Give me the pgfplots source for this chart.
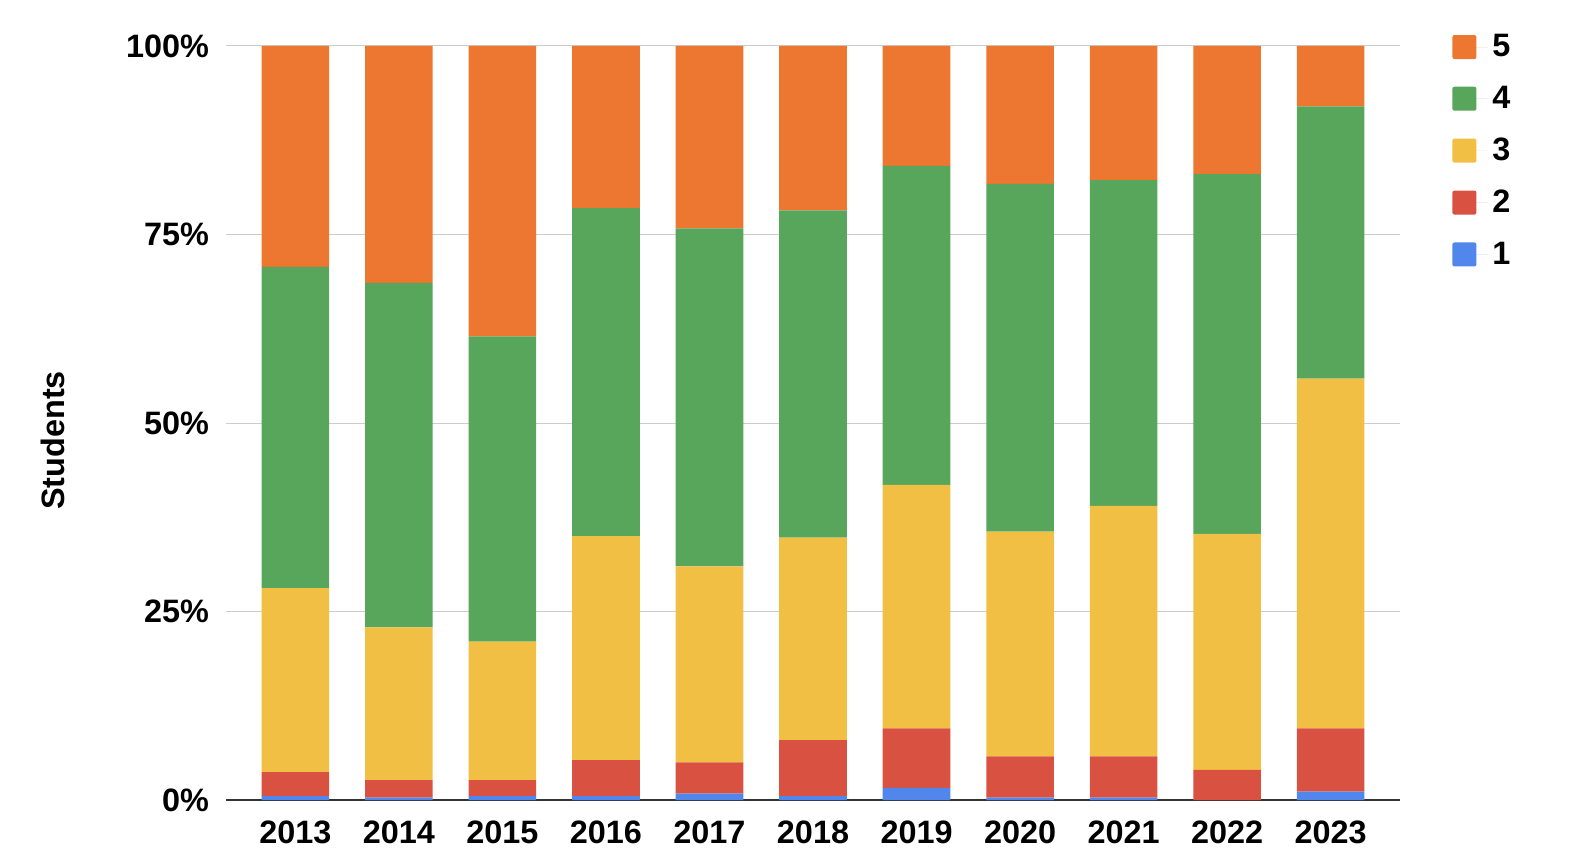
\documentclass[border=0pt]{standalone}
\usepackage{pgfplots}
\pgfplotsset{compat=1.18}
\usepackage{fontspec}
\setmainfont{Liberation Sans}
\definecolor{cA}{HTML}{5186EC}
\definecolor{cB}{HTML}{D95241}
\definecolor{cC}{HTML}{F1BF43}
\definecolor{cD}{HTML}{58A55C}
\definecolor{cE}{HTML}{ED7630}
\definecolor{gridc}{HTML}{CCCCCC}
\begin{document}
\begin{tikzpicture}
\useasboundingbox (0,0) rectangle (791pt,432pt);
\begin{axis}[
  at={(113pt,32pt)}, anchor=south west,
  scale only axis, width=587pt, height=377pt,
  ybar stacked, bar width=33.8pt,
  xmin=-0.67, xmax=10.67, ymin=0, ymax=100,
  xtick={0,...,10},
  xticklabels={2013,2014,2015,2016,2017,2018,2019,2020,2021,2022,2023},
  ytick={0,25,50,75,100},
  yticklabels={0\%,25\%,50\%,75\%,100\%},
  ymajorgrids, grid style={gridc, line width=0.5pt},
  axis line style={draw=none},
  tick style={draw=none},
  ticklabel style={font=\fontsize{16.2}{19}\selectfont\bfseries},
  yticklabel style={xshift=-5pt},
  xticklabel style={yshift=-7pt},
  ylabel={Students},
  ylabel style={at={(axis description cs:-0.147,0.477)}, anchor=center, font=\fontsize{16.2}{19}\selectfont\bfseries},
  legend style={at={(axis description cs:1,1)}, anchor=north west, draw=none, fill=none,
    xshift=26pt, yshift=8pt, row sep=9.2pt,
    font=\fontsize{16.2}{19}\selectfont\bfseries, inner sep=0pt},
  legend cell align=left,
  reverse legend,
  legend image code/.code={\fill[#1, rounded corners=1pt] (0pt,-6pt) rectangle (12pt,6pt); \path (0pt,0pt) -- (18pt,0pt);},
  every axis plot/.append style={draw=none},
  clip=false,
]
\addplot[fill=cA] coordinates {(0,0.5) (1,0.3) (2,0.5) (3,0.5) (4,0.85) (5,0.5) (6,1.6) (7,0.3) (8,0.3) (9,0) (10,1.1)};
\addplot[fill=cB] coordinates {(0,3.2) (1,2.35) (2,2.15) (3,4.8) (4,4.15) (5,7.45) (6,7.9) (7,5.5) (8,5.5) (9,4.0) (10,8.4)};
\addplot[fill=cC] coordinates {(0,24.4) (1,20.25) (2,18.35) (3,29.7) (4,26.0) (5,26.85) (6,32.3) (7,29.8) (8,33.2) (9,31.3) (10,46.4)};
\addplot[fill=cD] coordinates {(0,42.6) (1,45.7) (2,40.5) (3,43.5) (4,44.8) (5,43.4) (6,42.3) (7,46.1) (8,43.2) (9,47.7) (10,36.1)};
\addplot[fill=cE] coordinates {(0,29.3) (1,31.4) (2,38.5) (3,21.5) (4,24.2) (5,21.8) (6,15.9) (7,18.3) (8,17.8) (9,17.0) (10,8.0)};
\legend{1,2,3,4,5}
\draw[color=black!80, line width=1pt] (axis cs:-0.67,0) -- (axis cs:10.67,0);
\end{axis}
\end{tikzpicture}
\end{document}
